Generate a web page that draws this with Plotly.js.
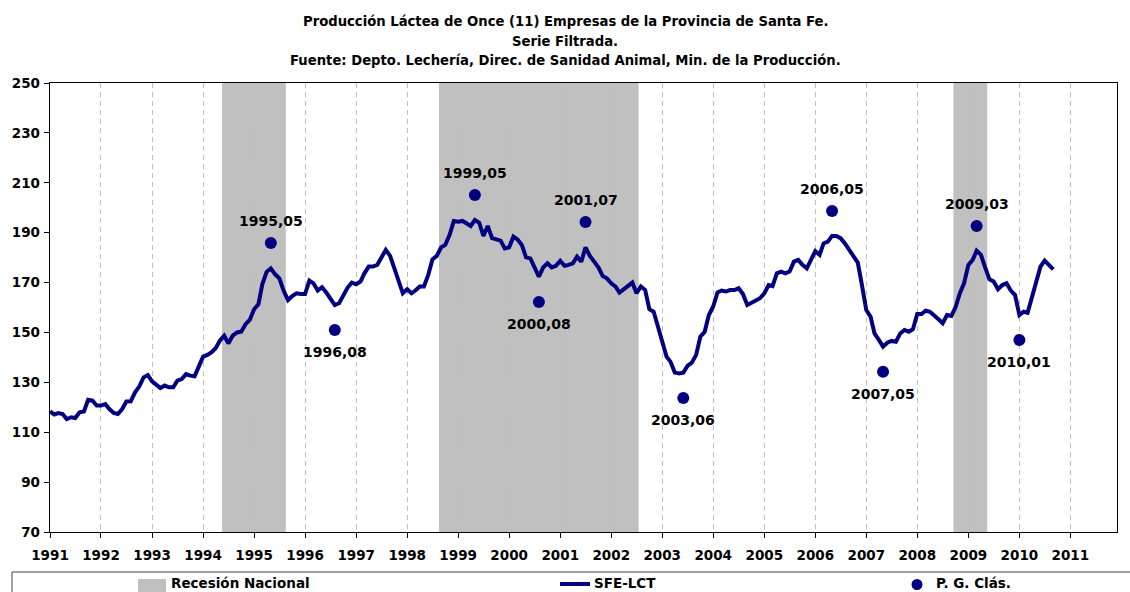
<!DOCTYPE html>
<html>
<head>
<meta charset="utf-8">
<script src="https://cdn.plot.ly/plotly-3.0.1.min.js"></script>
<style>html,body{margin:0;padding:0;background:#fff;}#chart{width:1130px;height:592px;}</style>
</head>
<body>
<div id="chart"></div>
<script>
// ---------- DATA ----------
const seriesStart = [1991, 1]; // first month of SFE-LCT (year, month)
const sfeLct = [
  118.3, 117.1, 117.7, 117.3, 115.3, 116.0, 115.7, 118.0, 118.3, 123.0, 122.7, 120.7,
  120.7, 121.3, 119.3, 117.7, 117.3, 119.3, 122.3, 122.4, 126.0, 128.3, 132.0, 132.9,
  130.4, 128.9, 127.7, 128.7, 128.0, 128.0, 130.7, 131.3, 133.3, 132.7, 132.4, 136.3,
  140.3, 141.0, 142.0, 143.7, 146.7, 148.7, 145.6, 148.7, 150.0, 150.3, 153.3, 155.0,
  159.3, 161.3, 169.3, 174.3, 175.7, 173.3, 171.7, 166.7, 163.0, 164.6, 165.7, 165.4,
  165.4, 170.8, 169.7, 166.8, 168.1, 166.0, 163.7, 161.0, 161.7, 164.8, 168.0, 170.0,
  169.3, 170.4, 173.7, 176.4, 176.4, 177.1, 179.7, 183.1, 180.7, 175.7, 170.4, 165.7,
  167.3, 165.7, 166.8, 168.4, 168.4, 173.1, 179.3, 180.7, 184.1, 185.1, 189.1, 194.7,
  194.4, 194.7, 193.8, 192.7, 195.1, 194.0, 188.7, 192.7, 187.8, 187.5, 186.8, 183.7,
  184.1, 188.4, 187.3, 185.1, 180.1, 179.7, 175.7, 172.4, 176.1, 177.7, 176.1, 176.7,
  178.7, 176.7, 177.1, 177.7, 180.4, 178.4, 184.1, 180.7, 178.4, 176.1, 172.6, 171.7,
  169.7, 168.4, 166.0, 167.3, 168.4, 170.0, 165.7, 168.4, 167.0, 159.3, 158.3, 152.3,
  145.9, 140.3, 138.3, 133.9, 133.6, 133.9, 136.6, 137.9, 141.0, 148.3, 150.3, 157.0,
  160.4, 166.0, 166.8, 166.4, 167.0, 167.0, 167.7, 165.4, 161.0, 161.7, 162.8, 163.7,
  165.7, 169.0, 168.6, 173.7, 174.4, 173.7, 174.4, 178.4, 179.1, 177.1, 175.7, 179.1,
  182.6, 181.1, 185.7, 186.4, 188.7, 188.7, 187.8, 185.7, 183.1, 180.1, 178.0, 169.0,
  159.0, 156.3, 149.6, 147.0, 144.3, 145.9, 146.6, 146.3, 149.6, 151.0, 150.3, 151.3,
  157.4, 157.4, 158.7, 158.3, 157.0, 155.3, 153.7, 157.0, 156.6, 160.1, 165.7, 169.7,
  177.1, 179.1, 182.8, 181.1, 176.1, 171.3, 170.4, 167.3, 169.0, 169.7, 166.8, 165.0,
  157.0, 158.3, 157.9, 164.6, 171.0, 176.4, 178.8, 177.1, 175.3
];

const pgMonths = ['1995-05','1996-08','1999-05','2000-08','2001-07','2003-06','2006-05','2007-05','2009-03','2010-01'];
const pgValues = [185.9, 151.0, 205.1, 162.2, 194.3, 123.7, 198.7, 134.2, 192.7, 147.0];
const pgLabels = ['1995,05','1996,08','1999,05','2000,08','2001,07','2003,06','2006,05','2007,05','2009,03','2010,01'];
const pgLabelSide = ['above','below','above','below','above','below','above','below','above','below'];

const recessionFirstMonth = ['1994-06','1998-09','2008-10'];
const recessionLastMonth  = ['1995-08','2002-07','2009-05'];

const yTicks = [70, 90, 110, 130, 150, 170, 190, 210, 230, 250];

const titleLines = [
  'Producción Láctea de Once (11) Empresas de la Provincia de Santa Fe.',
  'Serie Filtrada.',
  'Fuente: Depto. Lechería, Direc. de Sanidad Animal, Min. de la Producción.'
];
const legendNames = ['Recesión Nacional', 'SFE-LCT', 'P. G. Clás.'];

// ---------- HELPERS ----------
function pad(n){ return (n < 10 ? '0' : '') + n; }
function monthDate(y, m){ return y + '-' + pad(m) + '-01'; }
function fmtMs(ms){
  const d = new Date(ms);
  return d.getUTCFullYear() + '-' + pad(d.getUTCMonth()+1) + '-' + pad(d.getUTCDate()) + ' ' + pad(d.getUTCHours()) + ':' + pad(d.getUTCMinutes());
}
function monthMs(str){ const p = str.split('-'); return Date.UTC(+p[0], +p[1]-1, 1); }
const HALF_MONTH = 15.2 * 24 * 3600 * 1000;

const sfeDates = sfeLct.map((v, i) => {
  const t = (seriesStart[0]*12 + seriesStart[1]-1) + i;
  return monthDate(Math.floor(t/12), (t % 12) + 1);
});
const pgDates = pgMonths.map(s => s + '-01');

// ---------- LAYOUT GEOMETRY ----------
const W = 1130, H = 592;
const M = {l: 50, r: 13, t: 83, b: 60};
const PW = W - M.l - M.r, PH = H - M.t - M.b;
const px = x => (x - M.l) / PW;
const py = y => (H - M.b - y) / PH;

const NAVY = '#000080';
const GREY = '#c0c0c0';
const FONT = 'DejaVu Sans, Verdana, sans-serif';

// ---------- TRACES ----------
const traces = [
  {
    x: sfeDates, y: sfeLct, type: 'scatter', mode: 'lines',
    name: legendNames[1], line: {color: NAVY, width: 4}, showlegend: false
  },
  {
    x: pgDates, y: pgValues, type: 'scatter', mode: 'markers',
    name: legendNames[2], marker: {color: NAVY, size: 12}, showlegend: false
  }
];

// ---------- SHAPES ----------
const shapes = [];
recessionFirstMonth.forEach((s, k) => {
  shapes.push({
    type: 'rect', xref: 'x', yref: 'paper',
    x0: fmtMs(monthMs(s) - HALF_MONTH),
    x1: fmtMs(monthMs(recessionLastMonth[k]) + HALF_MONTH),
    y0: 0, y1: 1, fillcolor: GREY, line: {width: 0}, layer: 'between'
  });
});
// legend frame and symbols
shapes.push({type:'rect', xref:'paper', yref:'paper', x0: px(12), x1: px(1145), y0: py(605), y1: py(572),
             line:{color:'#404040', width:1}, fillcolor:'rgba(0,0,0,0)', layer:'above'});
shapes.push({type:'rect', xref:'paper', yref:'paper', x0: px(138), x1: px(166), y0: py(593), y1: py(579),
             line:{width:0}, fillcolor: GREY, layer:'above'});
shapes.push({type:'line', xref:'paper', yref:'paper', x0: px(560), x1: px(590), y0: py(584), y1: py(584),
             line:{color: NAVY, width: 4}, layer:'above'});
shapes.push({type:'circle', xref:'paper', yref:'paper', x0: px(911.5), x1: px(922.5), y0: py(590), y1: py(579),
             line:{width:0}, fillcolor: NAVY, layer:'above'});

// ---------- ANNOTATIONS ----------
const BOLD14 = {family: FONT, size: 14, color: '#000', weight: 'bold'};
const annotations = pgLabels.map((t, i) => ({
  x: pgDates[i], y: pgValues[i], xref: 'x', yref: 'y', text: t, showarrow: false,
  yshift: pgLabelSide[i] === 'above' ? 22 : -22,
  font: BOLD14
}));
const legendX = [169, 592, 934];
legendNames.forEach((n, i) => {
  annotations.push({
    xref: 'paper', yref: 'paper', x: px(legendX[i]), y: py(583), xanchor: 'left', yanchor: 'middle',
    text: n, showarrow: false, font: {family: FONT, size: 13.5, color: '#000', weight: 'bold'}
  });
});
const titleY = [21, 41, 60.5];
titleLines.forEach((t, i) => {
  annotations.push({
    xref: 'paper', yref: 'paper', x: px(W/2), y: py(titleY[i]), xanchor: 'center', yanchor: 'middle',
    text: t, showarrow: false, font: {family: FONT, size: 13.2, color: '#000', weight: 'bold'}
  });
});

const layout = {
  width: W, height: H,
  margin: M,
  paper_bgcolor: '#fff', plot_bgcolor: '#fff',
  showlegend: false,
  xaxis: {
    type: 'date',
    range: ['1991-01-01', '2011-12-01'],
    tick0: '1991-01-01', dtick: 'M12', tickformat: '%Y',
    ticks: 'outside', ticklen: 5, tickcolor: '#000', tickwidth: 1,
    ticklabelstandoff: 5,
    showline: true, linecolor: '#000', linewidth: 1.3, mirror: true,
    showgrid: true, gridcolor: '#bdbdbd', gridwidth: 1, griddash: '5px,4px',
    zeroline: false,
    tickfont: {family: FONT, size: 13.5, color: '#000', weight: 'bold'},
    fixedrange: true
  },
  yaxis: {
    range: [70, 250], tickvals: yTicks,
    ticks: 'outside', ticklen: 5, tickcolor: '#000', tickwidth: 1,
    ticklabelstandoff: 1,
    showline: true, linecolor: '#000', linewidth: 1.3, mirror: true,
    showgrid: false, zeroline: false,
    tickfont: {family: FONT, size: 13.5, color: '#000', weight: 'bold'},
    fixedrange: true
  },
  shapes: shapes,
  annotations: annotations
};

Plotly.newPlot('chart', traces, layout, {displayModeBar: false, staticPlot: true});
</script>
</body>
</html>
